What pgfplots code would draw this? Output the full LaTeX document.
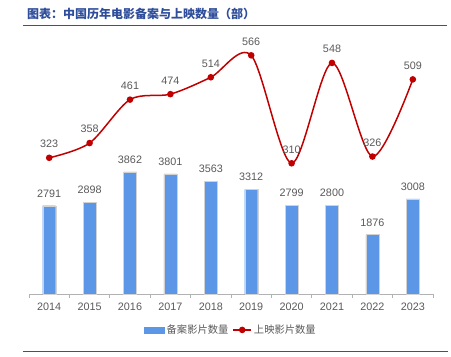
\documentclass[border=0pt]{standalone}
\usepackage{pgfplots}
\pgfplotsset{compat=1.18}
\usepackage{fontspec}
\setmainfont{Liberation Sans}
\newfontfamily\cjk{Noto Sans CJK SC}
\definecolor{barblue}{HTML}{5B96E7}
\definecolor{linered}{HTML}{C00000}
\definecolor{txtgray}{HTML}{595959}
\definecolor{titleblue}{HTML}{2E4D9A}
\definecolor{ruleblue}{HTML}{2F5597}
\begin{document}
\begin{tikzpicture}[x=1pt,y=1pt]
\useasboundingbox (0,0) rectangle (451,-357);
\node[anchor=west, font=\cjk\bfseries\fontsize{12}{14}\selectfont, text=titleblue, inner sep=0] at (27,-14) {图表：中国历年电影备案与上映数量（部）};
\draw[ruleblue, line width=1.2pt] (23,-25.5) -- (447,-25.5);
\draw[ruleblue, line width=1pt] (23,-351) -- (448,-351);
\begin{axis}[
  at={(29pt,-294pt)}, anchor=south west,
  scale only axis, width=404pt, height=253pt,
  xmin=-0.5, xmax=9.5, ymin=0, ymax=8000,
  axis y line=none, axis x line*=bottom,
  x axis line style={-, draw=gray!60, line width=0.8pt},
  xtick={0,...,9},
  xticklabels={2014,2015,2016,2017,2018,2019,2020,2021,2022,2023},
  major tick length=0pt,
  minor xtick={-0.5,0.5,...,9.5},
  minor tick length=4pt,
  tick align=outside,
  minor tick style={draw=gray!60, line width=0.8pt},
  xticklabel style={font=\fontsize{10.8}{12}\selectfont, text=txtgray, yshift=-5pt},
  /pgf/number format/.cd, 1000 sep={}, assume math mode=true,
]
\addplot[ybar, bar width=13pt, fill=barblue, draw=gray!35,
  nodes near coords,
  nodes near coords style={font=\fontsize{10.8}{12}\selectfont, text=txtgray, yshift=5pt}]
  coordinates {(0,2791) (1,2898) (2,3862) (3,3801) (4,3563) (5,3312) (6,2799) (7,2800) (8,1876) (9,3008)};
\end{axis}
\begin{axis}[
  at={(29pt,-294pt)}, anchor=south west,
  scale only axis, width=404pt, height=253pt,
  xmin=-0.5, xmax=9.5, ymin=0, ymax=600,
  axis lines=none,
  /pgf/number format/.cd, 1000 sep={}, assume math mode=true,
  /pgfplots/.cd,
  legend style={at={(0.5,-0.142)}, anchor=center, draw=none, fill=none,
    font=\cjk\fontsize{10.3}{12}\selectfont, text=txtgray,
    /tikz/every even column/.append style={column sep=2pt}},
  legend columns=2,
]
\addlegendimage{legend image code/.code={\fill[barblue] (0pt,-3pt) rectangle (20pt,3pt);}}
\addlegendentry{备案影片数量}
\addplot[linered, line width=1.5pt, smooth, mark=*, mark size=2.5pt,
  mark options={fill=linered, draw=linered},
  legend image code/.code={\draw[linered,line width=1.5pt] (0pt,0pt) -- (18pt,0pt); \fill[linered] (9pt,0pt) circle (2.5pt);},
  nodes near coords,
  nodes near coords style={font=\fontsize{10.8}{12}\selectfont, text=txtgray, yshift=6pt}]
  coordinates {(0,323) (1,358) (2,461) (3,474) (4,514) (5,566) (6,310) (7,548) (8,326) (9,509)};
\addlegendentry{上映影片数量}
\end{axis}
\end{tikzpicture}
\end{document}
